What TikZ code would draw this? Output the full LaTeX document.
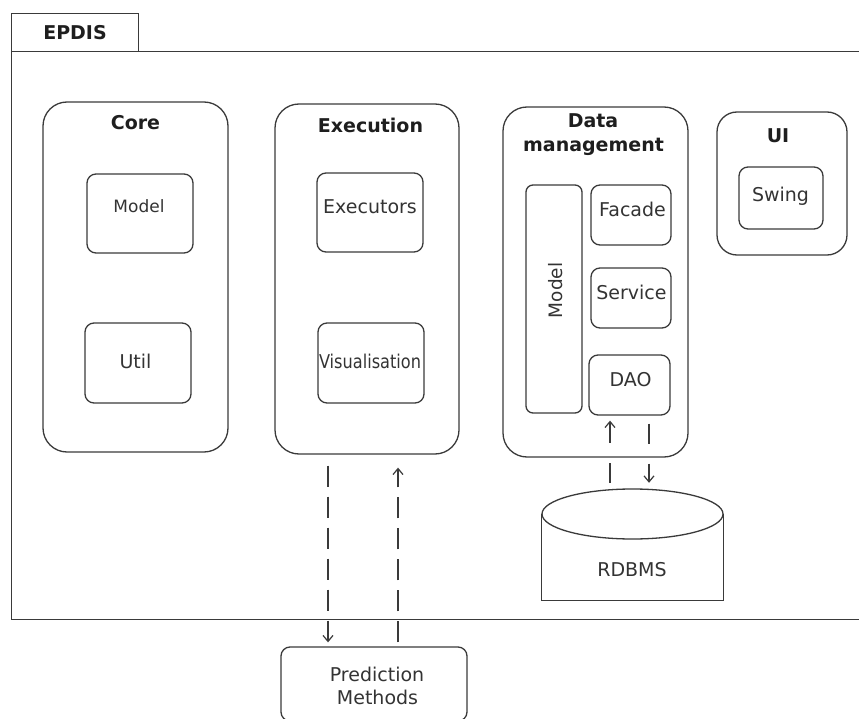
\documentclass[tikz,border=0pt]{standalone}
\usepackage{fontspec}
\usepackage{graphicx}
\setmainfont{DejaVu Sans}
\usetikzlibrary{arrows.meta}
\definecolor{linegray}{HTML}{3A3A3A}
\definecolor{textgray}{HTML}{333333}
\definecolor{headgray}{HTML}{1E1E1E}
\begin{document}
\begin{tikzpicture}[x=1pt,y=-1pt,
  outline/.style={draw=linegray, line width=1.3pt},
  container/.style={outline, rounded corners=24pt, inner sep=0pt},
  module/.style={outline, rounded corners=9pt, inner sep=0pt},
  lbl/.style={anchor=base, inner sep=0pt, text=textgray, font=\fontsize{19}{23}\selectfont},
  head/.style={anchor=base, inner sep=0pt, text=headgray, font=\fontsize{19}{23}\selectfont\bfseries},
  dep/.style={draw=linegray, line width=1.2pt, -{Straight Barb[length=6pt,width=10pt,line width=1.2pt]}},
  longdash/.style={dash pattern=on 21.5pt off 9.5pt},
  shortdash/.style={dash pattern=on 20pt off 20pt}]
\useasboundingbox (0,0) rectangle (859,719);

% package frame with its tab
\node[outline, inner sep=0pt, minimum width=127, minimum height=38, anchor=north west] (tab) at (11,13) {};
\node[outline, inner sep=0pt, minimum width=870, minimum height=568, anchor=north west] (pkg) at (11,51) {};
\node[head] (tabtext) at (75,40) {EPDIS};

% Core
\node[container, minimum width=185, minimum height=350] (core) at (135.5,277) {};
\node[head] (coretext) at (135.5,130) {Core};
\node[module, minimum width=106, minimum height=79] (cmodel) at (140,213.5) {};
\node[lbl, font=\fontsize{17}{20}\selectfont] (cmodeltext) at (139,212.5) {Model};
\node[module, minimum width=106, minimum height=80] (util) at (138,363) {};
\node[lbl] (utiltext) at (135.5,368) {Util};

% Execution
\node[container, minimum width=184, minimum height=350] (exec) at (367,279) {};
\node[head] (exectext) at (370.5,133) {Execution};
\node[module, minimum width=106, minimum height=79] (executors) at (370,212.5) {};
\node[lbl] (executorstext) at (370,214) {Executors};
\node[module, minimum width=106, minimum height=80] (visual) at (371,363) {};
\node[lbl] (visualtext) at (370,368) {\scalebox{0.85}[1]{Visualisation}};

% Data management
\node[container, minimum width=185, minimum height=350] (dm) at (595.5,282) {};
\node[head] (dmtext1) at (593,128) {Data};
\node[head] (dmtext2) at (593.5,152) {management};
\node[module, rounded corners=7pt, minimum width=56, minimum height=228] (dmodel) at (554,299) {};
\node[lbl, rotate=90, anchor=base, font=\fontsize{18.5}{22}\selectfont] (dmodeltext) at (562,290.5) {Model};
\node[module, minimum width=80, minimum height=60] (facade) at (631,215) {};
\node[lbl] (facadetext) at (632.5,217) {Facade};
\node[module, minimum width=80, minimum height=60] (service) at (631,298) {};
\node[lbl] (servicetext) at (631.5,299) {Service};
\node[module, minimum width=81, minimum height=60] (dao) at (629.5,385) {};
\node[lbl] (daotext) at (630.5,386) {DAO};

% UI
\node[container, rounded corners=20pt, minimum width=130, minimum height=143] (ui) at (782,183.5) {};
\node[head] (uitext) at (778,143) {UI};
\node[module, minimum width=84, minimum height=62] (swing) at (781,198) {};
\node[lbl] (swingtext) at (780.5,202) {Swing};

% database cylinder
\node[inner sep=0pt, minimum width=181, minimum height=111] (db) at (632.5,544.5) {};
\draw[outline] (db.west |- 0,514) -- (db.south west) -- (db.south east) -- (db.east |- 0,514);
\draw[outline, fill=white] (632.5,514) ellipse [x radius=90.5, y radius=25];
\node[lbl] (dbtext) at (632,576) {RDBMS};

% external prediction methods
\node[module, minimum width=186, minimum height=74] (pred) at (374,684) {};
\node[lbl] (predtext1) at (377,681) {Prediction};
\node[lbl] (predtext2) at (377.5,704) {Methods};

% dependencies
\coordinate (xdown) at (328,0);
\coordinate (xup) at (398,0);
\coordinate (xdaoup) at (610,0);
\coordinate (xdaodown) at (649,0);
\draw[dep, longdash, shorten <=11pt, shorten >=4pt] (exec.south -| xdown) -- (pred.north -| xdown);
\draw[dep, longdash, shorten <=4pt, shorten >=13pt] (pred.north -| xup) -- (exec.south -| xup);
\draw[dep, shortdash, shorten <=6pt, shorten >=5pt] (db.north -| xdaoup) -- (dao.south -| xdaoup);
\draw[dep, shortdash, shorten <=8pt, shorten >=6pt] (dao.south -| xdaodown) -- (db.north -| xdaodown);
\end{tikzpicture}
\end{document}
